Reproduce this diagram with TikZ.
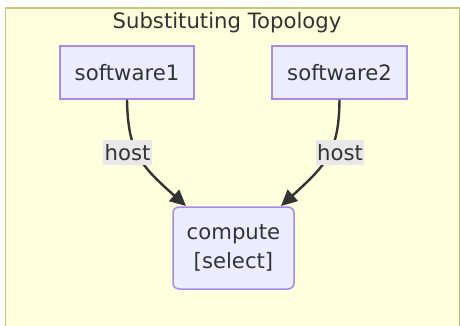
\documentclass[tikz,border=0pt]{standalone}
\usepackage{fontspec}
\setmainfont{DejaVu Sans}
\usetikzlibrary{arrows.meta}
\definecolor{txt}{HTML}{333333}
\definecolor{clfill}{HTML}{FFFFDE}
\definecolor{clstroke}{HTML}{C8C878}
\definecolor{ndfill}{HTML}{ECECFF}
\definecolor{ndstroke}{HTML}{A88BE6}
\definecolor{lblbg}{HTML}{E8E8E8}
\tikzset{
  nodebox/.style={draw=ndstroke, fill=ndfill, line width=1.5pt, text=txt,
    font=\fontsize{21.2}{28.5}\selectfont, inner sep=0pt},
  edgelbl/.style={fill=lblbg, text=txt, font=\fontsize{21.2}{24}\selectfont,
    inner sep=1.5pt, minimum height=25pt},
  conn/.style={draw=txt, line width=2.4pt, -{Triangle[length=16pt,width=15pt]}}
}
\begin{document}
\begin{tikzpicture}[x=1pt,y=-1pt]
\useasboundingbox (0,0) rectangle (460,326);
\begin{scope}
\clip (0,0) rectangle (460,326);
\node[draw=clstroke, fill=clfill, line width=1.6pt, minimum width=454.5pt, minimum height=340pt, anchor=north west, inner sep=0pt] (cluster) at (4.8,7.5) {};
\end{scope}
\node[anchor=base, text=txt, font=\fontsize{21.2}{24}\selectfont] (title) at (227,28.5) {Substituting Topology};
\node[nodebox, minimum width=134pt, minimum height=53pt] (s1) at (127,72.5) {software1};
\node[nodebox, minimum width=135pt, minimum height=53pt] (s2) at (339.5,72.5) {software2};
\node[nodebox, rounded corners=6pt, minimum width=121pt, minimum height=82pt, align=center] (c) at (233.5,248) {compute\\{}[select]};
\coordinate (e1) at (186,206);
\coordinate (e2) at (281,206);
\draw[conn] (s1.south) .. controls (128,152) and (140,165) .. (e1);
\draw[conn] (s2.south) .. controls (339,152) and (326,165) .. (e2);
\node[edgelbl] (l1) at (127.5,152.5) {host};
\node[edgelbl] (l2) at (340,152.5) {host};
\end{tikzpicture}
\end{document}
